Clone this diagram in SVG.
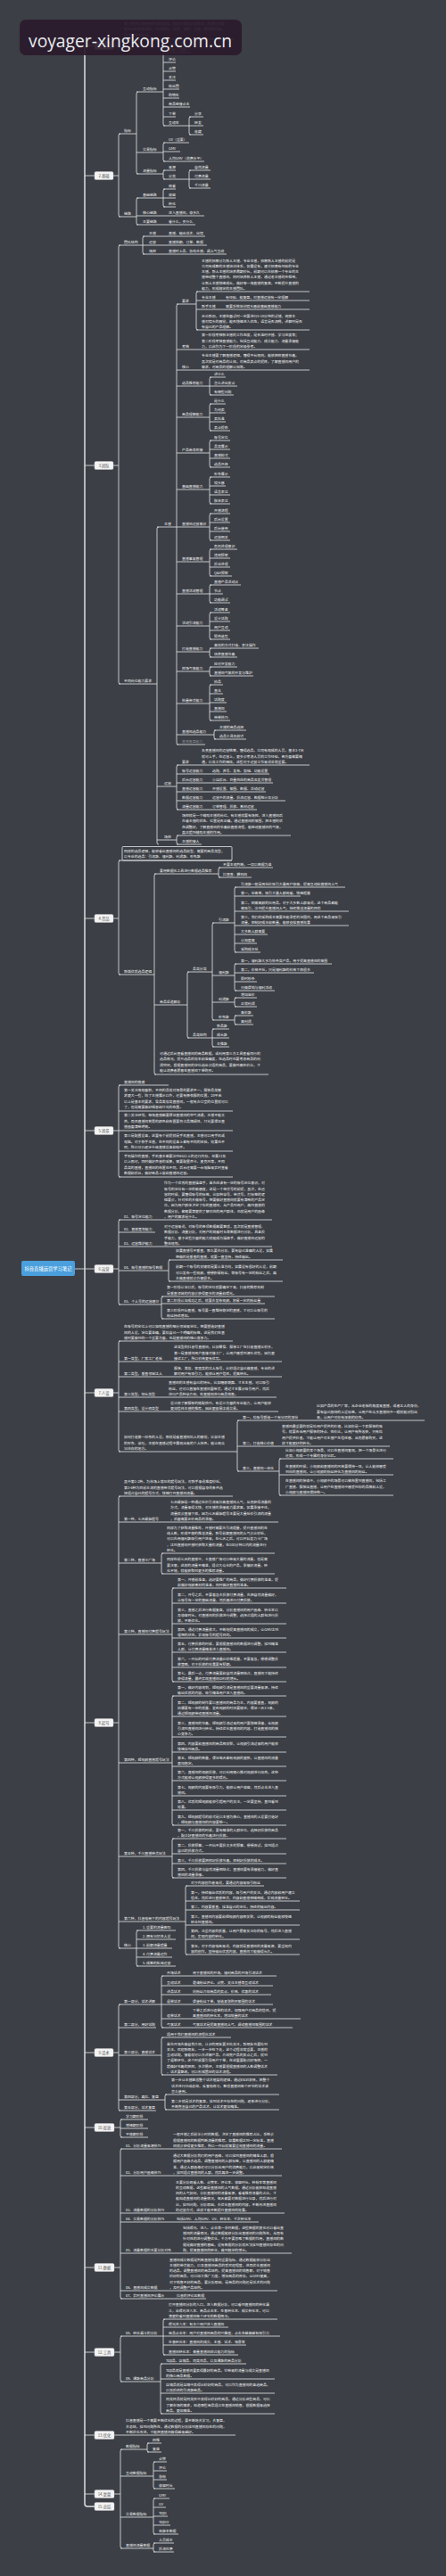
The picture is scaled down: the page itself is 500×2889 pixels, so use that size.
<svg xmlns="http://www.w3.org/2000/svg" width="500" height="2889" viewBox="0 0 500 2889">
<style>
.bg{fill:#3c3f45}
.c{fill:none;stroke:#dcdfe2;stroke-width:.85}
.k{fill:none;stroke:#dcdfe2;stroke-width:1.5}
.t{font-family:"Noto Sans CJK SC","Noto Sans CJK JP",sans-serif;font-size:3.9px;fill:#f3f4f5}
.f{fill:#8a8d92}
.m rect{fill:#f3f3f3;stroke:#c4c6c9;stroke-width:.4}
.m text{font-family:"Noto Sans CJK SC","Noto Sans CJK JP",sans-serif;font-size:4.3px;fill:#555;text-anchor:middle}
</style>
<rect class="bg" width="500" height="2889"/>
<g id="connectors">
<path class="k" d="M106 51 H98 Q95 51 95 54 V2808 Q95 2811 98 2811 H106"/>
<path class="c" d="M95 197 H106 M95 522 H106 M95 1030 H106 M95 1268 H106 M95 1423 H106 M95 1562 H106 M95 1932 H106 M95 2302 H106 M95 2386 H106 M95 2543 H106 M95 2638 H106 M95 2731 H106 M95 2797 H106 M84 1423 H95 M127 51 H130 Q133 51 133 48 V46 Q133 44 135 44 H262"/>
<path class="c" d="M127 197 H133 M135 150 Q133 150 133 152 V241 Q133 243 135 243 M133 150 H153 M155 103 Q153 103 153 105 V193 Q153 195 155 195 M153 103 H183 M185 59 Q183 59 183 61 V139 Q183 141 185 141 M183 59 H213 M183 70 H197 M183 80 H197 M183 90 H197 M183 100 H201 M183 110 H201 M183 120 H213 M183 131 H197 M183 141 H212 M214 131 Q212 131 212 133 V149 Q212 151 214 151 M212 131 H228 M212 141 H228 M212 151 H228 M153 171 H183 M185 160 Q183 160 183 162 V179 Q183 181 185 181 M183 160 H212 M183 170 H202 M183 181 H229 M153 195 H183 M185 191 Q183 191 183 193 V199 Q183 201 185 201 M183 191 H197 M183 201 H212 M214 191 Q212 191 212 193 V209 Q212 211 214 211 M212 191 H236 M212 201 H236 M212 211 H236 M133 243 H153 M155 222 Q153 222 153 224 V250 Q153 252 155 252 M153 222 H183 M185 212 Q183 212 183 214 V230 Q183 232 185 232 M183 212 H197 M183 222 H197 M183 232 H197 M153 242 H229 M153 252 H219"/>
<path class="c" d="M127 522 H133 M135 275 Q133 275 133 277 V765 Q133 767 135 767 M133 275 H160 M162 265 Q160 265 160 267 V283 Q160 285 162 285 M160 265 H230 M160 275 H232 M160 285 H254 M133 767 H176 M178 591 Q176 591 176 593 V945 Q176 947 178 947 M176 591 H235 M200 341 Q198 341 198 343 V833 Q198 835 200 835 M198 341 H220 M222 327 Q220 327 220 329 V368 Q220 370 222 370 M220 327 H347 M220 337 H347 M220 347 H347 M220 370 H347 M198 392 H347 M198 415 H347 M198 433 H235 M237 423 Q235 423 235 425 V441 Q235 443 237 443 M235 423 H253 M235 433 H266 M235 443 H262 M198 468 H235 M237 453 Q235 453 235 455 V481 Q235 483 237 483 M235 453 H253 M235 463 H253 M235 473 H253 M235 483 H258 M198 508 H235 M237 494 Q235 494 235 496 V522 Q235 524 237 524 M235 494 H258 M235 504 H258 M235 514 H258 M235 524 H258 M198 549 H235 M237 535 Q235 535 235 537 V563 Q235 565 237 565 M235 535 H258 M235 545 H253 M235 555 H258 M235 565 H258 M237 576 Q235 576 235 578 V604 Q235 606 237 606 M235 576 H258 M235 586 H258 M235 596 H258 M235 606 H258 M198 630 H235 M237 616 Q235 616 235 618 V644 Q235 646 237 646 M235 616 H266 M235 626 H258 M235 636 H258 M235 646 H260 M198 666 H235 M237 656 Q235 656 235 658 V674 Q235 676 237 676 M235 656 H270 M235 666 H250 M235 676 H258 M198 702 H235 M237 687 Q235 687 235 689 V715 Q235 717 237 717 M235 687 H258 M235 697 H258 M235 707 H258 M235 717 H258 M198 731 H235 M237 727 Q235 727 235 729 V735 Q235 737 237 737 M235 727 H290 M235 737 H266 M198 753 H235 M237 748 Q235 748 235 750 V756 Q235 758 237 758 M235 748 H266 M235 758 H284 M198 789 H235 M237 768 Q235 768 235 770 V806 Q235 808 237 808 M235 768 H250 M235 778 H250 M235 788 H254 M235 798 H254 M235 808 H258 M198 824 H240 M242 819 Q240 819 240 821 V827 Q240 829 242 829 M240 819 H276 M240 829 H276 M198 835 H230 M176 882 H198 M200 858 Q198 858 198 860 V906 Q198 908 200 908 M198 858 H347 M198 868 H302 M198 878 H306 M198 888 H298 M198 898 H320 M198 908 H288 M176 942 H198 M200 937 Q198 937 198 939 V945 Q198 947 200 947 M198 937 H326 M198 947 H226"/>
<path class="c" d="M127 1030 H133 M135 965 Q133 965 133 967 V1091 Q133 1093 135 1093 M133 965 H260 M133 1093 H173 M175 980 Q173 980 173 982 V1203 Q173 1205 175 1205 M173 980 H245 M247 973 Q245 973 245 975 V982 Q245 984 247 984 M245 973 H306 M245 984 H282 M173 1127 H210 M212 1090 Q210 1090 210 1092 V1162 Q210 1164 212 1164 M210 1090 H238 M240 1035 Q238 1035 238 1037 V1142 Q238 1144 240 1144 M238 1035 H263 M265 995 Q263 995 263 997 V1066 Q263 1068 265 1068 M263 995 H387 M263 1005 H337 M263 1022 H391 M263 1038 H391 M263 1048 H300 M263 1058 H288 M263 1068 H292 M238 1094 H263 M265 1081 Q263 1081 263 1083 V1109 Q263 1111 265 1111 M263 1081 H372 M263 1091 H352 M263 1101 H288 M263 1111 H308 M238 1124 H263 M265 1119 Q263 1119 263 1121 V1127 Q263 1129 265 1129 M263 1119 H288 M263 1129 H288 M238 1144 H263 M265 1139 Q263 1139 263 1141 V1147 Q263 1149 265 1149 M263 1139 H284 M263 1149 H284 M210 1164 H238 M240 1154 Q238 1154 238 1156 V1172 Q238 1174 240 1174 M238 1154 H257 M238 1164 H257 M238 1174 H257 M173 1205 H301"/>
<path class="c" d="M127 1268 H133 M135 1217 Q133 1217 133 1219 V1318 Q133 1320 135 1320 M133 1217 H189 M133 1246 H261 M133 1268 H261 M133 1291 H261 M133 1320 H261"/>
<path class="c" d="M127 1423 H133 M135 1368 Q133 1368 133 1370 V1461 Q133 1463 135 1463 M133 1368 H305 M133 1382 H174 M133 1398 H305 M133 1425 H189 M191 1413 Q189 1413 189 1415 V1435 Q189 1437 191 1437 M189 1413 H317 M189 1437 H317 M133 1463 H181 M183 1454 Q181 1454 181 1456 V1477 Q181 1479 183 1479 M181 1454 H308 M181 1462 H297 M181 1479 H308"/>
<path class="c" d="M127 1562 H133 M135 1504 Q133 1504 133 1506 V1626 Q133 1628 135 1628 M133 1504 H261 M133 1527 H316 M133 1544 H316 M133 1567 H310 M133 1583 H312 M133 1628 H266 M268 1593 Q266 1593 266 1595 V1648 Q266 1650 268 1650 M266 1593 H476 M266 1622 H437 M266 1650 H313 M315 1636 Q313 1636 313 1638 V1675 Q313 1677 315 1677 M313 1636 H441 M313 1654 H441 M313 1677 H441"/>
<path class="c" d="M127 1932 H133 M135 1678 Q133 1678 133 1680 V2183 Q133 2185 135 2185 M133 1678 H261 M133 1707 H312 M133 1753 H181 M183 1742 Q181 1742 181 1744 V1763 Q181 1765 183 1765 M181 1742 H308 M181 1765 H308 M133 1833 H193 M195 1781 Q193 1781 193 1783 V1884 Q193 1886 195 1886 M193 1781 H321 M193 1798 H321 M193 1821 H321 M193 1837 H321 M193 1853 H321 M193 1870 H321 M193 1886 H321 M133 1977 H193 M195 1902 Q193 1902 193 1904 V2045 Q193 2047 195 2047 M193 1902 H321 M193 1925 H321 M193 1948 H321 M193 1965 H321 M193 1981 H321 M193 1997 H321 M193 2014 H321 M193 2030 H321 M193 2047 H321 M133 2082 H193 M195 2062 Q193 2062 193 2064 V2104 Q193 2106 195 2106 M193 2062 H321 M193 2079 H321 M193 2090 H321 M193 2106 H321 M133 2155 H208 M210 2115 Q208 2115 208 2117 V2190 Q208 2192 210 2192 M208 2115 H296 M208 2132 H336 M208 2142 H336 M208 2159 H336 M208 2175 H336 M208 2192 H336 M133 2185 H153 M155 2165 Q153 2165 153 2167 V2203 Q153 2205 155 2205 M153 2165 H197 M153 2175 H197 M153 2185 H193 M153 2195 H193 M153 2205 H197"/>
<path class="c" d="M127 2302 H133 M135 2248 Q133 2248 133 2250 V2365 Q133 2367 135 2367 M133 2248 H181 M183 2216 Q181 2216 181 2218 V2272 Q181 2274 183 2274 M181 2216 H310 M181 2227 H306 M181 2237 H304 M181 2248 H306 M181 2264 H337 M181 2274 H328 M133 2274 H175 M133 2305 H181 M183 2285 Q181 2285 181 2287 V2325 Q181 2327 183 2327 M181 2285 H259 M181 2327 H311 M133 2355 H185 M187 2349 Q185 2349 185 2351 V2364 Q185 2366 187 2366 M185 2349 H313 M185 2366 H313 M133 2367 H175"/>
<path class="c" d="M128 2386 H135 M137 2377 Q135 2377 135 2379 V2395 Q135 2397 137 2397 M135 2377 H166 M135 2387 H166 M135 2397 H166 M128 2543 H135 M137 2410 Q135 2410 135 2412 V2576 Q135 2578 137 2578 M135 2410 H316 M135 2440 H316 M135 2482 H319 M135 2492 H290 M135 2527 H327 M135 2569 H311 M135 2578 H231 M128 2638 H135 M137 2620 Q135 2620 135 2622 V2669 Q135 2671 137 2671 M135 2620 H183 M185 2601 Q183 2601 183 2603 V2639 Q183 2641 185 2641 M183 2601 H311 M183 2610 H256 M183 2620 H314 M183 2630 H276 M183 2641 H267 M135 2671 H180 M182 2651 Q180 2651 180 2653 V2705 Q180 2707 182 2707 M180 2651 H276 M180 2668 H308 M180 2684 H308 M180 2707 H308 M128 2731 H264 M128 2797 H135 M137 2747 Q135 2747 135 2749 V2856 Q135 2858 137 2858 M135 2747 H165 M167 2740 Q165 2740 165 2742 V2748 Q165 2750 167 2750 M165 2740 H181 M165 2750 H181 M135 2777 H172 M174 2761 Q172 2761 172 2763 V2789 Q172 2791 174 2791 M172 2761 H187 M172 2771 H187 M172 2781 H187 M172 2791 H196 M135 2823 H172 M174 2802 Q172 2802 172 2804 V2840 Q172 2842 174 2842 M172 2802 H190 M172 2812 H186 M172 2822 H188 M172 2832 H191 M172 2842 H200 M135 2858 H172 M174 2852 Q172 2852 172 2854 V2860 Q172 2862 174 2862 M172 2852 H195 M172 2862 H195"/>
<rect class="c" x="137" y="949.5" width="123" height="15.5" rx="1"/>
</g>

<g id="root"><rect x="24" y="1414" width="60" height="17" rx="2" fill="#4a9fdc"/><text x="54" y="1424.6" font-family="Noto Sans CJK SC, sans-serif" font-size="5.3" fill="#fff" text-anchor="middle">抖音直播运营学习笔记</text></g>

<g id="n1" class="m"><rect x="106" y="46.5" width="21" height="9" rx="1.5"/><text x="116.5" y="52.5">1.前言</text></g>
<g id="n2" class="m"><rect x="106" y="192.5" width="21" height="9" rx="1.5"/><text x="116.5" y="198.5">2.基础</text></g>
<g id="n3" class="m"><rect x="106" y="517.5" width="21" height="9" rx="1.5"/><text x="116.5" y="523.5">3.团队</text></g>
<g id="n4" class="m"><rect x="106" y="1025.5" width="21" height="9" rx="1.5"/><text x="116.5" y="1031.5">4.货品</text></g>
<g id="n5" class="m"><rect x="106" y="1263.5" width="21" height="9" rx="1.5"/><text x="116.5" y="1269.5">5.场景</text></g>
<g id="n6" class="m"><rect x="106" y="1418.5" width="21" height="9" rx="1.5"/><text x="116.5" y="1424.5">6.运营</text></g>
<g id="n7" class="m"><rect x="106" y="1557.5" width="21" height="9" rx="1.5"/><text x="116.5" y="1563.5">7.人设</text></g>
<g id="n8" class="m"><rect x="106" y="1927.5" width="21" height="9" rx="1.5"/><text x="116.5" y="1933.5">8.起号</text></g>
<g id="n9" class="m"><rect x="106" y="2297.5" width="21" height="9" rx="1.5"/><text x="116.5" y="2303.5">9.话术</text></g>
<g id="n10" class="m"><rect x="106" y="2381.5" width="22" height="9" rx="1.5"/><text x="117" y="2387.5">10.投放</text></g>
<g id="n11" class="m"><rect x="106" y="2538.5" width="22" height="9" rx="1.5"/><text x="117" y="2544.5">11.数据</text></g>
<g id="n12" class="m"><rect x="106" y="2633.5" width="22" height="9" rx="1.5"/><text x="117" y="2639.5">12.工具</text></g>
<g id="n13" class="m"><rect x="106" y="2726.5" width="22" height="9" rx="1.5"/><text x="117" y="2732.5">13.优化</text></g>
<g id="n14" class="m"><rect x="106" y="2792.5" width="22" height="9" rx="1.5"/><text x="117" y="2798.5">14.复盘</text></g>
<g id="n15" class="m"><rect x="106" y="2806.5" width="22" height="9" rx="1.5"/><text x="117" y="2812.5">15.总结</text></g>

<g id="n1-p"><text class="t"><tspan x="139" y="28">看了很多抖音直播带货的课程，总结了这份学习笔记，希望对大家</tspan><tspan x="139" y="34.3">提升GMV有所帮助，包括团队、货品、场景、运营、起号等内容，</tspan><tspan x="139" y="40.6">供大家参考学习。</tspan></text></g>

<g id="n2-a"><text class="t" x="139" y="148.2">指标</text></g>
<g id="n2-a1"><text class="t" x="160" y="101.2">互动指标</text></g>
<g id="n2-a1-l"><text class="t"><tspan x="189" y="57.2">停留（重要）</tspan><tspan x="189" y="68.2">评论</tspan><tspan x="189" y="78.2">点赞</tspan><tspan x="189" y="88.2">关注</tspan><tspan x="189" y="98.2">粉丝团</tspan><tspan x="189" y="108.2">购物车</tspan><tspan x="189" y="118.2">商品链接点击</tspan><tspan x="189" y="129.2">下单</tspan><tspan x="189" y="139.2">互动率</tspan><tspan x="218" y="129.2">分享</tspan><tspan x="218" y="139.2">转发</tspan><tspan x="218" y="149.2">收藏</tspan></text></g>
<g id="n2-a2"><text class="t" x="160" y="169.2">交易指标</text></g>
<g id="n2-a2-l"><text class="t"><tspan x="189" y="158.2">UV（重要）</tspan><tspan x="189" y="168.2">GMV</tspan><tspan x="189" y="179.2">人均GMV（消费水平）</tspan></text></g>
<g id="n2-a3"><text class="t" x="160" y="193.2">流量指标</text></g>
<g id="n2-a3-l"><text class="t"><tspan x="189" y="189.2">来源</tspan><tspan x="189" y="199.2">分类</tspan><tspan x="218" y="189.2">自然流量</tspan><tspan x="218" y="199.2">付费流量</tspan><tspan x="218" y="209.2">千川流量</tspan></text></g>
<g id="n2-b"><text class="t" x="139" y="241.2">链路</text></g>
<g id="n2-b1"><text class="t"><tspan x="160" y="220.2">基础链路</tspan><tspan x="189" y="210.2">观看</tspan><tspan x="189" y="220.2">停留</tspan><tspan x="189" y="230.2">转化</tspan></text></g>
<g id="n2-b2"><text class="t"><tspan x="160" y="240.2">核心链路</tspan><tspan x="189" y="240.2">进入直播间，停多久</tspan></text></g>
<g id="n2-b3"><text class="t"><tspan x="160" y="250.2">主要链路</tspan><tspan x="189" y="250.2">看什么，买什么</tspan></text></g>

<g id="n3-a"><text class="t" x="139" y="273.2">团队结构</text></g>
<g id="n3-a-l"><text class="t"><tspan x="167" y="263.2">主播</tspan><tspan x="189" y="263.2">直播、输出话术、出镜</tspan><tspan x="167" y="273.2">运营</tspan><tspan x="189" y="273.2">直播排期、订单、数据</tspan><tspan x="167" y="283.2">场控</tspan><tspan x="189" y="283.2">直播时上品、协助主播、调人气互动</tspan></text></g>
<g id="n3-b"><text class="t" x="139" y="765.2">不同岗位能力要求</text></g>
<g id="n3-b1"><text class="t" x="184" y="589.2">主播</text></g>
<g id="n3-b1-1"><text class="t" x="204" y="339.2">要求</text></g>
<g id="n3-b1-1p"><text class="t"><tspan x="226" y="293.5">主播的招募分为新人主播、专业主播，招募新人主播的前提是</tspan><tspan x="226" y="299.8">公司有成熟的主播培训体系，如果没有，建议招募有经验的专业</tspan><tspan x="226" y="306.1">主播，新人主播的培养周期较长，前期可以先招募一个专业的主</tspan><tspan x="226" y="312.4">播带动整个直播间，同时培养新人主播，通过老主播的传帮带，</tspan><tspan x="226" y="318.7">让新人主播快速成长，做好每一场直播的复盘，不断提升直播的</tspan><tspan x="226" y="325">能力，形成稳定的主播团队。</tspan></text></g>
<g id="n3-b1-1a"><text class="t"><tspan x="226" y="335.2">专业主播</tspan><tspan x="253" y="335.2">有经验、能复盘，对直播运营有一定理解</tspan></text></g>
<g id="n3-b1-1b"><text class="t"><tspan x="226" y="345.2">新手主播</tspan><tspan x="253" y="345.2">需要系统培训镜头感和基础直播能力</tspan></text></g>
<g id="n3-b1-1c"><text class="t"><tspan x="226" y="355.5">无论新旧，主播在面试时一定要进行5-10分钟的试播，观察主</tspan><tspan x="226" y="361.8">播对镜头的感觉，能否快速进入状态，语言是否流畅，讲解时是否</tspan><tspan x="226" y="368.1">有自己的产品理解。</tspan></text></g>
<g id="n3-b1-2"><text class="t"><tspan x="204" y="390.2">考核</tspan><tspan x="226" y="377.4">第一阶段考核新主播的工作态度，是否准时开播、学习进度等；</tspan><tspan x="226" y="383.7">第二阶段考核直播能力，包括互动能力、成交能力、流量承接能</tspan><tspan x="226" y="390">力，以此作为下一阶段的定级参考。</tspan></text></g>
<g id="n3-b1-3"><text class="t"><tspan x="204" y="413.2">核心</tspan><tspan x="226" y="400.4">专业主播要了解直播逻辑，懂得平台规则，能够把控直播节奏，</tspan><tspan x="226" y="406.7">其次就是对商品的认知，对商品卖点的提炼，了解直播间用户的</tspan><tspan x="226" y="413">需求，对商品的理解认知等。</tspan></text></g>
<g id="n3-b1-4"><text class="t"><tspan x="204" y="431.2">选品推荐能力</tspan><tspan x="240" y="421.2">讲什么</tspan><tspan x="240" y="431.2">怎么讲出卖点</tspan><tspan x="240" y="441.2">有哪些问题</tspan></text></g>
<g id="n3-b1-5"><text class="t"><tspan x="204" y="466.2">商品理解能力</tspan><tspan x="240" y="451.2">是什么</tspan><tspan x="240" y="461.2">为何卖</tspan><tspan x="240" y="471.2">卖给谁</tspan><tspan x="240" y="481.2">卖点提炼</tspan></text></g>
<g id="n3-b1-6"><text class="t"><tspan x="204" y="506.2">产品商务衔接</tspan><tspan x="240" y="492.2">账号定位</tspan><tspan x="240" y="502.2">品类展示</tspan><tspan x="240" y="512.2">直播模式</tspan><tspan x="240" y="522.2">选品风格</tspan></text></g>
<g id="n3-b1-7"><text class="t"><tspan x="204" y="547.2">基础直播能力</tspan><tspan x="240" y="533.2">形象展示</tspan><tspan x="240" y="543.2">镜头感</tspan><tspan x="240" y="553.2">语言表达</tspan><tspan x="240" y="563.2">肢体表达</tspan></text></g>
<g id="n3-b1-8"><text class="t"><tspan x="204" y="589.2">直播间运营意识</tspan><tspan x="240" y="574.2">开播流程</tspan><tspan x="240" y="584.2">后台设置</tspan><tspan x="240" y="594.2">后台使用</tspan><tspan x="240" y="604.2">运营相关</tspan></text></g>
<g id="n3-b1-9"><text class="t"><tspan x="204" y="628.2">直播事故管理</tspan><tspan x="240" y="614.2">危机处理意识</tspan><tspan x="240" y="624.2">违规预案</tspan><tspan x="240" y="634.2">投诉处理</tspan><tspan x="240" y="644.2">Q&amp;A预案</tspan></text></g>
<g id="n3-b1-10"><text class="t"><tspan x="204" y="664.2">直播活动管理</tspan><tspan x="240" y="654.2">直播产品活动点</tspan><tspan x="240" y="664.2">节点</tspan><tspan x="240" y="674.2">功能调试</tspan></text></g>
<g id="n3-b1-11"><text class="t"><tspan x="204" y="700.2">活动引流能力</tspan><tspan x="240" y="685.2">活动筹备</tspan><tspan x="240" y="695.2">设计话题</tspan><tspan x="240" y="705.2">用户互动</tspan><tspan x="240" y="715.2">预热造势</tspan></text></g>
<g id="n3-b1-12"><text class="t"><tspan x="204" y="729.2">打造直播能力</tspan><tspan x="240" y="725.2">高效的方式打造、表达操作</tspan><tspan x="240" y="735.2">培养直播节奏</tspan></text></g>
<g id="n3-b1-13"><text class="t"><tspan x="204" y="751.2">控场气氛能力</tspan><tspan x="240" y="746.2">应对突发能力</tspan><tspan x="240" y="756.2">直播间气氛的开发与维护</tspan></text></g>
<g id="n3-b1-14"><text class="t"><tspan x="204" y="787.2">批量带货能力</tspan><tspan x="240" y="766.2">拍品</tspan><tspan x="240" y="776.2">直击</tspan><tspan x="240" y="786.2">话题度</tspan><tspan x="240" y="796.2">直播间</tspan><tspan x="240" y="806.2">带单技巧</tspan></text></g>
<g id="n3-b1-15"><text class="t"><tspan x="204" y="822.2">直播间选品能力</tspan><tspan x="246" y="817.2">主播的商品选择</tspan><tspan x="246" y="827.2">选品工具及模式</tspan></text></g>
<g id="n3-b1-16"><text class="t f" x="204" y="833.2">直播复盘能力</text></g>
<g id="n3-b2"><text class="t" x="184" y="880.2">运营</text></g>
<g id="n3-b2-1"><text class="t"><tspan x="204" y="856.2">要求</tspan><tspan x="226" y="843.4">负责直播间的运营统筹，懂得选品，公司有现成的人员，基本3-7天</tspan><tspan x="226" y="849.7">就可上手，在运营上，更多会考虑人员的工作经验，各方面都要精</tspan><tspan x="226" y="856">通，以及工作的细致，这些对于运营工作来说非常重要。</tspan></text></g>
<g id="n3-b2-2"><text class="t"><tspan x="204" y="866.2">账号运营能力</tspan><tspan x="238" y="866.2">选题、养号、发布、剪辑、功能设置</tspan></text></g>
<g id="n3-b2-3"><text class="t"><tspan x="204" y="876.2">后台运营能力</tspan><tspan x="238" y="876.2">小店后台、巨量百应的商品及发货管理</tspan></text></g>
<g id="n3-b2-4"><text class="t"><tspan x="204" y="886.2">直播运营能力</tspan><tspan x="238" y="886.2">开播设置、氛围、数据、活动运营</tspan></text></g>
<g id="n3-b2-5"><text class="t"><tspan x="204" y="896.2">数据运营能力</tspan><tspan x="238" y="896.2">运营中的流量、投流运营、数据统计及分析</tspan></text></g>
<g id="n3-b2-6"><text class="t"><tspan x="204" y="906.2">流量运营能力</tspan><tspan x="238" y="906.2">订单管理、投放、素材运营</tspan></text></g>
<g id="n3-b3"><text class="t" x="184" y="940.2">场控</text></g>
<g id="n3-b3-1"><text class="t"><tspan x="204" y="916.1">场控就是一个辅助主播的岗位，有主播就要有场控，进入直播间后</tspan><tspan x="204" y="922.4">先看主播的状态、位置是否正确，通过直播间的氛围，把主播的状</tspan><tspan x="204" y="928.7">态调整好，了解直播间的节奏和直播流程，能带动直播间的气氛，</tspan><tspan x="204" y="935">真正起到辅助主播的作用。</tspan></text></g>
<g id="n3-b3-2"><text class="t" x="204" y="945.2">主播的接人</text></g>

<g id="n4-a"><text class="t"><tspan x="139" y="955.6">同样的选品逻辑，能够看出直播间的选品模型，需要的商品类型，</tspan><tspan x="139" y="961.9">以专业的选品：引流款、福利款、利润款、形象款</tspan></text></g>
<g id="n4-b"><text class="t" x="139" y="1091.2">新版优质选品逻辑</text></g>
<g id="n4-b1"><text class="t"><tspan x="179" y="978.2">要用数据化工具进行数据选品推荐</tspan><tspan x="250" y="971.2">不要主观判断，一切以数据为准</tspan><tspan x="250" y="982.2">抖查查、蝉妈妈</tspan></text></g>
<g id="n4-b2"><text class="t" x="179" y="1125.2">商品渠道解析</text></g>
<g id="n4-b2-1"><text class="t" x="216" y="1088.2">品类分类</text></g>
<g id="n4-b2-1a"><text class="t"><tspan x="245" y="1033.2">引流款</tspan><tspan x="270" y="993.2">引流款一般是用低价吸引大量用户停留，提高互动和直播间人气</tspan><tspan x="270" y="1003.2">第一，低客单，吸引大量人群观看，快速起量</tspan><tspan x="270" y="1013.7">第二，刚需高频的日用品，对于大多数人群来说，这个商品都能</tspan><tspan x="270" y="1020">被吸引，达到提升直播间人气，持续推送流量的目的</tspan><tspan x="270" y="1029.7">第三，我们的采购成本需要在能承受的范围内，用这个商品来吸引</tspan><tspan x="270" y="1036">流量，控制好成本和数量，能够支撑直播效果</tspan><tspan x="270" y="1046.2">大多数人群需要</tspan><tspan x="270" y="1056.2">认知度高</tspan><tspan x="270" y="1066.2">采购成本低</tspan></text></g>
<g id="n4-b2-1b"><text class="t"><tspan x="245" y="1092.2">福利款</tspan><tspan x="270" y="1079.2">第一，福利款大多为秒杀类产品，用于提高直播间的氛围</tspan><tspan x="270" y="1089.2">第二，价格不低，只是福利款的价格下降很多</tspan><tspan x="270" y="1099.2">限时秒杀</tspan><tspan x="270" y="1109.2">只做促销与福利活动</tspan></text></g>
<g id="n4-b2-1c"><text class="t"><tspan x="245" y="1122.2">利润款</tspan><tspan x="270" y="1117.2">增加溢价</tspan><tspan x="270" y="1127.2">正常利润</tspan></text></g>
<g id="n4-b2-1d"><text class="t"><tspan x="245" y="1142.2">形象款</tspan><tspan x="270" y="1137.2">高价款</tspan><tspan x="270" y="1147.2">高利润</tspan></text></g>
<g id="n4-b2-2"><text class="t"><tspan x="216" y="1162.2">品类结构</tspan><tspan x="243" y="1152.2">新品款</tspan><tspan x="243" y="1162.2">成长款</tspan><tspan x="243" y="1172.2">主推款</tspan></text></g>
<g id="n4-b3"><text class="t"><tspan x="179" y="1183.1">可通过后台查看直播间的商品数据，或利用第三方工具查看同行的</tspan><tspan x="179" y="1189.4">选品情况，提升选品的效率和准确度，在选品时也要考虑商品的利</tspan><tspan x="179" y="1195.7">润空间，根据直播间的定位选出合适的商品，要做到高性价比，才</tspan><tspan x="179" y="1202">能让消费者愿意在直播间下单购买。</tspan></text></g>

<g id="n5-a"><text class="t" x="139" y="1215.2">直播间的搭建</text></g>
<g id="n5-b"><text class="t"><tspan x="139" y="1224.1">第一关注场地面积，不同的品类对场景的要求不一，服装品类需</tspan><tspan x="139" y="1230.4">求更大一些，除了主播展示以外，还要有换衣服的位置，20平米</tspan><tspan x="139" y="1236.7">以上是基本的要求，食品美妆类直播间，一般有办公室的位置就可以</tspan><tspan x="139" y="1243">了，但是需要做好隔音和灯光的布置。</tspan></text></g>
<g id="n5-c"><text class="t"><tspan x="139" y="1252.4">第二关注环境，每场直播都要保证直播间的空气流通，主播不能太</tspan><tspan x="139" y="1258.7">热，而且直播间背景的颜色和布置要符合品牌调性，灯光要保证直</tspan><tspan x="139" y="1265">播画面清晰明亮。</tspan></text></g>
<g id="n5-d"><text class="t"><tspan x="139" y="1275.4">第三是配置设备，这里有个前提就是手机直播，主播可以用手机或</tspan><tspan x="139" y="1281.7">电脑，对于新手主播，在不同的设备上都有不同的体验，效果也不</tspan><tspan x="139" y="1288">同，所以可以逐步升级直播设备和软件。</tspan></text></g>
<g id="n5-e"><text class="t"><tspan x="139" y="1298.1">手机操作的直播，手机基本都要达到6G以上的运行内存，苹果11及</tspan><tspan x="139" y="1304.4">以上即可，同时做好声音的采集，需要配置声卡、麦克风等，不同</tspan><tspan x="139" y="1310.7">品类的直播，直播间的布置也不同，后台还需要一台电脑来实时查看</tspan><tspan x="139" y="1317">数据和后台，做好商品上架和直播间运营。</tspan></text></g>

<g id="n6-a"><text class="t"><tspan x="139" y="1366.2">01、账号定位能力</tspan><tspan x="184" y="1328.2">作为一个优秀的直播操盘手，首先应该有一定的账号定位意识，对</tspan><tspan x="184" y="1334.5">账号的定位有一定的敏感度，这是一个带货号的前提，其次，在运</tspan><tspan x="184" y="1340.8">营的时候，要懂得账号的标签，比如种草号、带货号，打标签的逻</tspan><tspan x="184" y="1347.1">辑要会，针对性的去做账号，想要做好直播间就要有清晰的产品定</tspan><tspan x="184" y="1353.4">位，因为用户群体决定了你的直播间，从产品到用户，再到直播的</tspan><tspan x="184" y="1359.7">数据分析，都需要清楚的了解对应的用户群体，也就是用户的画像</tspan><tspan x="184" y="1366">，用户的需求是什么。</tspan></text></g>
<g id="n6-b"><text class="t" x="139" y="1380.2">02、直播策划能力</text></g>
<g id="n6-c"><text class="t"><tspan x="139" y="1396.2">03、运营维护能力</tspan><tspan x="184" y="1377.1">对于运营来说，对账号的各项数据都要熟悉，其次就是直播管理、</tspan><tspan x="184" y="1383.4">数据分析、流量分析，对用户的观看时长等数据进行分析，具备投</tspan><tspan x="184" y="1389.7">手能力，基于这些方面的能力就能成为操盘手，做好直播间运营的</tspan><tspan x="184" y="1396">整体规划。</tspan></text></g>
<g id="n6-d"><text class="t" x="139" y="1423.2">04、账号直播的账号数据</text></g>
<g id="n6-d1"><text class="t"><tspan x="197" y="1404.4">如果直播号不垂直，那么要先分析，要有自己准确的人设，如果</tspan><tspan x="197" y="1410.7">想做的是垂直的直播，就要一直坚持，持续输出。</tspan></text></g>
<g id="n6-d2"><text class="t"><tspan x="197" y="1422.4">前期一个账号的关键就是要认准方向，如果没有很好的人设，前期</tspan><tspan x="197" y="1428.7">可以发布一些视频，慢慢积累粉丝，等账号有一定的粉丝之后，再</tspan><tspan x="197" y="1435">去做直播就会方便很多。</tspan></text></g>
<g id="n6-e"><text class="t" x="139" y="1461.2">05、个人号的运营建议</text></g>
<g id="n6-e1"><text class="t"><tspan x="187" y="1445.4">第一阶段认证以后，账号的定位就要确定下来，抖音的推荐机制</tspan><tspan x="187" y="1451.7">是垂直领域的内容会获得更多的流量和曝光。</tspan></text></g>
<g id="n6-e2"><text class="t" x="187" y="1460.2">第二阶段认证成功之后，就要去发布视频，积累一定的粉丝量</text></g>
<g id="n6-e3"><text class="t"><tspan x="187" y="1470.7">第三阶段开始直播，账号要一直维持稳定的直播，才可以让账号的</tspan><tspan x="187" y="1477">粉丝持续增加。</tspan></text></g>

<g id="n7-a"><text class="t"><tspan x="139" y="1489.4">在账号的定位上可以借助直播的细分领域来定位，想要塑造好直播</tspan><tspan x="139" y="1495.7">间的人设，定位要准确，要给自己一个明确的标签，这是我们在直</tspan><tspan x="139" y="1502">播时要做到的一个重要方面，也是直播间的核心竞争力。</tspan></text></g>
<g id="n7-b"><text class="t"><tspan x="139" y="1525.2">第一类型，厂家工厂老板</tspan><tspan x="195" y="1512.4">这类型的抖音号直播间，比如零食、服装工厂在抖音直播比较多，</tspan><tspan x="195" y="1518.7">第一是直播间用户直接对接工厂，让用户感受到源头优势，因为更</tspan><tspan x="195" y="1525">接近工厂，所以价格更有优势。</tspan></text></g>
<g id="n7-c"><text class="t"><tspan x="139" y="1542.2">第二类型，垂直领域达人</tspan><tspan x="195" y="1535.7">服装、美妆、家居类的达人账号，比较适合自己做直播，专业的讲</tspan><tspan x="195" y="1542">解对用户有吸引力，能够让用户信任，提高转化。</tspan></text></g>
<g id="n7-d"><text class="t"><tspan x="139" y="1565.2">第三类型，特长类型</tspan><tspan x="189" y="1552.4">直播间的主播有自己的特长，比如唱歌跳舞、才艺主播，可以吸引</tspan><tspan x="189" y="1558.7">粉丝，还可以直接在直播间里带货，通过才艺展示吸引用户，然后</tspan><tspan x="189" y="1565">进行产品种草介绍，在直播间进行商品销售。</tspan></text></g>
<g id="n7-e"><text class="t"><tspan x="139" y="1581.2">第四类型，设计师类型</tspan><tspan x="191" y="1574.7">设计师了解服装的搭配技巧，有设计方面的专业能力，让用户能够</tspan><tspan x="191" y="1581">更加信任主播的推荐，因此更容易达成交易。</tspan></text></g>
<g id="n7-f"><text class="t"><tspan x="139" y="1613.4">如何打造第一印象的人设，那就是看直播间给人的感觉，比如主播</tspan><tspan x="139" y="1619.7">的形象、谈吐，主播在直播过程中展现出来的个人特色，能让观众</tspan><tspan x="139" y="1626">记住你的地方。</tspan></text></g>
<g id="n7-f1"><text class="t"><tspan x="272" y="1591.2">第一，给账号塑造一个有记忆的身份</tspan><tspan x="355" y="1578.4">比如产品的生产厂家，从企业老板的角度来直播，或者达人的身份，</tspan><tspan x="355" y="1584.7">要有自己独特的人设标签，让用户在众多直播间中一眼就能识别出</tspan><tspan x="355" y="1591">来，让用户对你有深刻的印象。</tspan></text></g>
<g id="n7-f2"><text class="t"><tspan x="272" y="1620.2">第二，打造核心价值</tspan><tspan x="316" y="1601.1">直播间最重要的就是给用户提供的价值，比如你是一个卖服装的账</tspan><tspan x="316" y="1607.4">号，就要告诉用户服装的特点、性价比，让用户有所收获，只有给</tspan><tspan x="316" y="1613.7">用户提供价值，才能让用户对主播产生信任感，从而愿意购买，这</tspan><tspan x="316" y="1620">样才能更好的转化。</tspan></text></g>
<g id="n7-f3"><text class="t" x="272" y="1648.2">第三，直播间一体化</text></g>
<g id="n7-f3-l"><text class="t"><tspan x="320" y="1627.7">比如小视频里的某个场景，可以在直播间复现，把一个场景化进行</tspan><tspan x="320" y="1634">还原，形成一个专属的身份记忆。</tspan><tspan x="320" y="1645.7">在直播的时候，小视频和直播间的风格要保持一致，让人能够感受</tspan><tspan x="320" y="1652">到你的直播间，让小视频的粉丝转化为直播间的粉丝。</tspan><tspan x="320" y="1662.4">在直播间的装修中，小视频中的场景可以被布置到直播间，包括工</tspan><tspan x="320" y="1668.7">厂直播、服装店直播，让用户在直播间中感受到你的品牌和人设，</tspan><tspan x="320" y="1675">小视频与直播间保持统一。</tspan></text></g>

<g id="n8-a"><text class="t"><tspan x="139" y="1663.4">其中第1-2种，为市场上常见的起号玩法，对新手来说难度较低，</tspan><tspan x="139" y="1669.7">第3-6种为目前主流的直播带货起号玩法，可以根据自身的条件选</tspan><tspan x="139" y="1676">择适合自己的起号方式，快速打开直播间流量。</tspan></text></g>
<g id="n8-b"><text class="t"><tspan x="139" y="1705.2">第一种，七天螺旋起号</tspan><tspan x="191" y="1686.1">七天螺旋是一种通过低价引流来拉高直播间人气，从而获得流量的</tspan><tspan x="191" y="1692.4">方式，流量来得太快，对主播的承接能力要求高，如果承接不住，</tspan><tspan x="191" y="1698.7">流量就会直接下降，因为七天螺旋起号主要是大量低价引流的流量</tspan><tspan x="191" y="1705">，后面需要正价商品的承接。</tspan></text></g>
<g id="n8-c"><text class="t" x="139" y="1751.2">第二种，直播卡广场</text></g>
<g id="n8-c-l"><text class="t"><tspan x="187" y="1714.8">同样为了获取流量推荐，开播时需要先引流起量，提升直播间的在</tspan><tspan x="187" y="1721.1">线人数，形成平稳的推送流量，新号前期直播间的人气会比较低，</tspan><tspan x="187" y="1727.4">可以先用福利款吸引用户进来，在七天之后，可以开始发力卡广场</tspan><tspan x="187" y="1733.7">，达到直播间开播时获取大量的流量，在100分钟以内的流量进行</tspan><tspan x="187" y="1740">转化。</tspan><tspan x="187" y="1750.4">同样在前七天的直播中，卡直播广场可以带来大量的流量，但是需</tspan><tspan x="187" y="1756.7">要注意，这样的流量不精准，适合大众化的产品，承接好流量，转</tspan><tspan x="187" y="1763">化不错，就能获取到更多的推荐流量。</tspan></text></g>
<g id="n8-d"><text class="t" x="139" y="1831.2">第三种，直播间付费起号玩法</text></g>
<g id="n8-d-l"><text class="t"><tspan x="199" y="1772.9">第一，开播前准备，选好要推广的商品，做好付费投放的准备，提</tspan><tspan x="199" y="1779.2">前做好视频素材的准备，同时做好直播的准备。</tspan><tspan x="199" y="1789.9">第二，开号之后，不要着急去投放付费流量，先把自然流量做好，</tspan><tspan x="199" y="1796.2">让账号有一定的基础流量，然后再进行付费投放。</tspan><tspan x="199" y="1806.6">第三，直播之后进行数据复盘，分析直播间的用户画像、转化率以</tspan><tspan x="199" y="1812.9">及停留时长，对直播间的投放进行调整，选择合适的人群包进行投</tspan><tspan x="199" y="1819.2">放，不断优化。</tspan><tspan x="199" y="1828.9">第四，通过付费流量放大，不断地提高直播间的成交，让GMV达到</tspan><tspan x="199" y="1835.2">理想的状态，实现账号的起号目的。</tspan><tspan x="199" y="1844.9">第五，付费投放的时候，要根据直播间的数据进行调整，找到精准</tspan><tspan x="199" y="1851.2">人群，让付费流量精准进入直播间。</tspan><tspan x="199" y="1861.9">第六，一开始的时候付费流量比较难起量，不要着急，慢慢调整投</tspan><tspan x="199" y="1868.2">放策略，对于投放的效果要有预期。</tspan><tspan x="199" y="1877.9">第七，最后一点，付费流量要和自然流量相结合，直播间才能持续</tspan><tspan x="199" y="1884.2">获得流量，最终实现直播间GMV的增长。</tspan></text></g>
<g id="n8-e"><text class="t" x="139" y="1975.2">第四种，短视频直播起号玩法</text></g>
<g id="n8-e-l"><text class="t"><tspan x="199" y="1893.9">第一，做好内容规划，短视频引流是直播间的重要流量来源，持续</tspan><tspan x="199" y="1900.2">输出优质的内容，吸引精准用户进入直播间。</tspan><tspan x="199" y="1910.6">第二，短视频的制作要以直播间的商品为主，内容要垂直，视频的</tspan><tspan x="199" y="1916.9">拍摄要有一定的质量，发布视频的时间要稳定，保证一天3-5条，</tspan><tspan x="199" y="1923.2">通过短视频带动直播间流量。</tspan><tspan x="199" y="1933.6">第三，直播间的节奏，短视频引流过来的用户要快速承接，从视频</tspan><tspan x="199" y="1939.9">引流到直播间进行转化，持续优化直播间的内容，打造直播间的核</tspan><tspan x="199" y="1946.2">心竞争力。</tspan><tspan x="199" y="1956.9">第四，内容要和直播间的商品相关联，让视频引流过来的用户能够</tspan><tspan x="199" y="1963.2">快速找到商品。</tspan><tspan x="199" y="1972.9">第五，短视频的数量，保证每天都有视频的更新，让直播间的流量</tspan><tspan x="199" y="1979.2">更加稳定。</tspan><tspan x="199" y="1988.9">第六，直播间的视频投放，可以利用随心推对视频进行加热，这种</tspan><tspan x="199" y="1995.2">方式能够让视频获得更多的曝光。</tspan><tspan x="199" y="2005.9">第七，视频的内容要有吸引力，能够让用户停留，然后点击进入直</tspan><tspan x="199" y="2012.2">播间。</tspan><tspan x="199" y="2021.9">第八，优质的短视频能够引起用户的关注，一定要坚持，直到看到</tspan><tspan x="199" y="2028.2">效果。</tspan><tspan x="199" y="2038.9">第九，短视频起号的模式是以主播为核心，直播间的人设要打造好</tspan><tspan x="199" y="2045.2">，短视频与直播间的内容要统一。</tspan></text></g>
<g id="n8-f"><text class="t" x="139" y="2080.2">第五种，千川直播带货玩法</text></g>
<g id="n8-f-l"><text class="t"><tspan x="199" y="2053.9">第一，千川投放的时候，要有精准的人群定位，选择好投放的商品</tspan><tspan x="199" y="2060.2">，配合好直播间的节奏进行投放。</tspan><tspan x="199" y="2070.9">第二，投放预算，一开始不要投太多的预算，慢慢测试，找到适合</tspan><tspan x="199" y="2077.2">自己的投放方式。</tspan><tspan x="199" y="2088.2">第三，千川投放要把控好投放节奏，控制好投放的成本。</tspan><tspan x="199" y="2097.9">第四，千川投放与自然流量相结合，直播间要有承接能力，做好直</tspan><tspan x="199" y="2104.2">播间的流量承接。</tspan></text></g>
<g id="n8-g"><text class="t" x="139" y="2153.2">第六种，抖音电商下的内容起号玩法</text></g>
<g id="n8-g-l"><text class="t"><tspan x="214" y="2113.2">对于内容创作者来说，要通过内容来吸引粉丝</tspan><tspan x="214" y="2123.9">第一，持续输出优质的内容，吸引用户的关注，通过内容和用户建立</tspan><tspan x="214" y="2130.2">信任，然后进行直播带货，内容和直播相辅相成，实现流量转化。</tspan><tspan x="214" y="2140.2">第二，内容要垂直，找准自己的定位，持续的输出内容。</tspan><tspan x="214" y="2150.9">第三，直播间内容要和短视频内容相关联，让视频的粉丝能够快速</tspan><tspan x="214" y="2157.2">转化到直播间。</tspan><tspan x="214" y="2166.9">第四，注重内容的质量，让用户愿意关注你的账号，然后进入直播</tspan><tspan x="214" y="2173.2">间，实现内容的转化。</tspan><tspan x="214" y="2183.9">第五，对于内容电商来说，内容就是直播间的流量来源，要重视内</tspan><tspan x="214" y="2190.2">容的创作，坚持输出优质内容，直播间才能做得长久。</tspan></text></g>
<g id="n8-h"><text class="t"><tspan x="139" y="2183.2">核心</tspan><tspan x="160" y="2163.2">1. 重要的流量密码</tspan><tspan x="160" y="2173.2">2. 拥有记忆性人设</tspan><tspan x="160" y="2183.2">3. 前期流量起量</tspan><tspan x="160" y="2193.2">4. 付费流量运作</tspan><tspan x="160" y="2203.2">5. 成熟的私域运营</tspan></text></g>

<g id="n9-a"><text class="t" x="139" y="2246.2">第一部分，话术讲解</text></g>
<g id="n9-a-l"><text class="t"><tspan x="187" y="2214.2">开场话术</tspan><tspan x="216" y="2214.2">用于直播间的开场，福利商品的开场引流话术</tspan><tspan x="187" y="2225.2">互动话术</tspan><tspan x="216" y="2225.2">邀请粉丝评论、点赞、关注主播等互动话术</tspan><tspan x="187" y="2235.2">讲品话术</tspan><tspan x="216" y="2235.2">向粉丝介绍商品的卖点、价格、优惠的话术</tspan><tspan x="187" y="2246.2">逼单话术</tspan><tspan x="216" y="2246.2">促使粉丝下单，营造紧张购买氛围的话术</tspan><tspan x="187" y="2262.2">追单话术</tspan><tspan x="216" y="2255.9">下单之后进行追单的话术，加强用户对商品的信任，提</tspan><tspan x="216" y="2262.2">高直播间的转化率，增加销量的话术</tspan><tspan x="187" y="2272.2">气氛话术</tspan><tspan x="216" y="2272.2">气氛话术是提高直播间人气、调动直播间氛围的话术</tspan></text></g>
<g id="n9-b"><text class="t" x="139" y="2272.2">第二部分，用好话题</text></g>
<g id="n9-c"><text class="t" x="139" y="2303.2">第三部分，直播话术</text></g>
<g id="n9-c-l"><text class="t"><tspan x="187" y="2283.2">适用于我们直播间的流程化话术</tspan><tspan x="187" y="2293.5">首先开场先做自我介绍，认识的朋友要多给关注，新朋友也要给到</tspan><tspan x="187" y="2299.8">关注，欢迎新朋友，一步一步往下走，这个过程非常重要，主播的</tspan><tspan x="187" y="2306.1">互动话题，接着就可以去讲解产品，介绍完产品的卖点之后，就到</tspan><tspan x="187" y="2312.4">了逼单环节，这个时候要引导用户下单，在这里要配合好场控，一</tspan><tspan x="187" y="2318.7">起做好节奏的把控，多次循环，主播要根据直播间的人数调整话术</tspan><tspan x="187" y="2325">，话术要熟练，可以形成固定的话术流程。</tspan></text></g>
<g id="n9-d"><text class="t" x="139" y="2353.2">第四部分，再拉、复盘</text></g>
<g id="n9-d-l"><text class="t"><tspan x="192" y="2334.4">第一步让主播熟悉整个话术框架的逻辑，通过excel表格，把整个</tspan><tspan x="192" y="2340.7">话术进行归纳总结，反复地练习，熟悉直播间每个环节的话术该</tspan><tspan x="192" y="2347">怎么使用。</tspan><tspan x="192" y="2357.7">第二步就是话术的复盘，找到话术中存在的问题，逐条进行分析，</tspan><tspan x="192" y="2364">不断完善自己的产品话术，让话术更加精准。</tspan></text></g>
<g id="n9-e"><text class="t" x="139" y="2365.2">第五部分，话术复盘</text></g>

<g id="n10-l"><text class="t"><tspan x="141" y="2375.2">学习期阶段</tspan><tspan x="141" y="2385.2">增速期阶段</tspan><tspan x="141" y="2395.2">平稳期阶段</tspan></text></g>

<g id="n11-a"><text class="t"><tspan x="141" y="2408.2">01、分析流量来源技巧</tspan><tspan x="194" y="2395.4">一般开播之后前半小时的数据，决定了直播间的推荐占比，系统会</tspan><tspan x="194" y="2401.7">根据直播间的数据判断流量的推荐，如果数据达到一定标准，直播</tspan><tspan x="194" y="2408">间就会获得更多推荐，所以一开始就需要重视直播间的流量。</tspan></text></g>
<g id="n11-b"><text class="t"><tspan x="141" y="2438.2">02、分析用户画像技巧</tspan><tspan x="194" y="2419.1">通过大数据分析我们的用户画像，可以找到直播间的精准人群，根</tspan><tspan x="194" y="2425.4">据用户画像去选品，调整直播间的人群标签，让直播间的人群更精</tspan><tspan x="194" y="2431.7">准，通过人群画像还可以分析出用户的消费能力，以此来制定价格</tspan><tspan x="194" y="2438">，找到适合直播间的人群，然后再进一步调整。</tspan></text></g>
<g id="n11-c"><text class="t"><tspan x="141" y="2480.2">03、流量数据的分析技巧</tspan><tspan x="197" y="2448.5">主要分析观看人数、点赞率、评论率、停留时长、转粉率等直播间</tspan><tspan x="197" y="2454.8">的互动数据，这些都是直播间的人气数据，通过分析能够知道直播</tspan><tspan x="197" y="2461.1">间的人气如何，分析直播间的流量来源，看看推荐流量的占比，才</tspan><tspan x="197" y="2467.4">能知道直播间的流量情况，每天都要对数据进行记录，然后进行对</tspan><tspan x="197" y="2473.7">比，找到问题，分析原因，去优化直播间的内容，不断改进直播间</tspan><tspan x="197" y="2480">的运营方式，这样才能不断提升直播间的效果。</tspan></text></g>
<g id="n11-d"><text class="t"><tspan x="141" y="2490.2">04、交易数据的分析技巧</tspan><tspan x="198" y="2490.2">包括GMV、人均GMV、UV、转化率、千次转化率</tspan></text></g>
<g id="n11-e"><text class="t"><tspan x="141" y="2525.2">05、流量数据的主要分析对象</tspan><tspan x="205" y="2499.8">包括曝光、进入、点击等一系列数据，这些数据的变化可以看出直</tspan><tspan x="205" y="2506.1">播间的流量情况，通过数据能够分析出直播间的问题所在，从而有</tspan><tspan x="205" y="2512.4">针对性的进行调整优化，千万不要忽略了数据的作用，直播间的数</tspan><tspan x="205" y="2518.7">据是做好直播的基础，没有数据的分析就无法找到直播间存在的问</tspan><tspan x="205" y="2525">题，提高直播间的转化，做到稳定的增长。</tspan></text></g>
<g id="n11-f"><text class="t"><tspan x="141" y="2567.2">06、直播间成交数据</tspan><tspan x="190" y="2535.5">直播间成交数据是判断直播效果的重要指标，通过数据能够分析出</tspan><tspan x="190" y="2541.8">主播的带货能力，以及直播间商品的受欢迎程度，进而优化直播间</tspan><tspan x="190" y="2548.1">的选品，调整直播间的商品结构，提高直播间的销售额，对于销售</tspan><tspan x="190" y="2554.4">较好的商品，可以加大推广力度，增加商品的库存，让GMV更高，</tspan><tspan x="190" y="2560.7">对于销售不好的商品，要分析原因，是商品的问题还是话术的问题</tspan><tspan x="190" y="2567">，及时调整产品结构。</tspan></text></g>
<g id="n11-g"><text class="t"><tspan x="141" y="2576.2">07、实时直播间评论展示</tspan><tspan x="198" y="2576.2">抖音的评论区数据</tspan></text></g>

<g id="n12-a"><text class="t" x="141" y="2618.2">08、转化漏斗的分析</text></g>
<g id="n12-a-l"><text class="t"><tspan x="189" y="2586.4">打开直播间分析的入口，进入数据分析，可以看到直播间的转化漏</tspan><tspan x="189" y="2592.7">斗，从曝光进入率、商品点击率、生意转化率、成交转化率，可以</tspan><tspan x="189" y="2599">清楚的看到直播间每个环节的数据情况。</tspan><tspan x="189" y="2608.2">曝光进入率：有多少用户进入直播间</tspan><tspan x="189" y="2618.2">商品点击率：用户对直播间商品的兴趣度，点击率越高越有吸引力</tspan><tspan x="189" y="2628.2">生意转化率：直播间的成交，主播、话术、场景等</tspan><tspan x="189" y="2639.2">直播间转化率：衡量直播间综合能力的指标</tspan></text></g>
<g id="n12-b"><text class="t" x="141" y="2669.2">09、爆款商品分析</text></g>
<g id="n12-b-l"><text class="t"><tspan x="186" y="2649.2">Top品、店铺品、同类目品，以及爆款的商品分析</tspan><tspan x="186" y="2659.9">Top品就是直播间里卖得最好的商品，它带来的流量与成交是直播间</tspan><tspan x="186" y="2666.2">的核心商品数据。</tspan><tspan x="186" y="2675.9">店铺品就是店铺中卖得比较好的商品，可以作为直播间的备选商品，</tspan><tspan x="186" y="2682.2">以及后续的引流款商品。</tspan><tspan x="186" y="2692.4">同类目品就是同类目中卖得比较好的商品，通过分析这些商品，可以</tspan><tspan x="186" y="2698.7">了解市场的需求，知道哪些商品适合在直播间销售，根据数据来选择</tspan><tspan x="186" y="2705">商品，更加精准。</tspan></text></g>

<g id="n13-a"><text class="t"><tspan x="141" y="2716.4">抖音直播是一个需要不断优化的过程，要不断地去学习，去复盘，</tspan><tspan x="141" y="2722.7">去总结，找到问题所在，通过数据的分析找到直播间存在的问题，</tspan><tspan x="141" y="2729">不断优化改进，才能把直播间做得越来越好。</tspan></text></g>

<g id="n14-a"><text class="t"><tspan x="141" y="2745.2">数据指标</tspan><tspan x="171" y="2738.2">四维</tspan><tspan x="171" y="2748.2">复盘</tspan></text></g>
<g id="n14-b"><text class="t"><tspan x="141" y="2775.2">互动数据指标</tspan><tspan x="178" y="2759.2">点赞</tspan><tspan x="178" y="2769.2">评论</tspan><tspan x="178" y="2779.2">涨粉</tspan><tspan x="178" y="2789.2">停留时长</tspan></text></g>
<g id="n14-c"><text class="t"><tspan x="141" y="2821.2">交易数据指标</tspan><tspan x="178" y="2800.2">GMV</tspan><tspan x="178" y="2810.2">UV</tspan><tspan x="178" y="2820.2">Top1</tspan><tspan x="178" y="2830.2">Top10</tspan><tspan x="178" y="2840.2">退款率数据</tspan></text></g>
<g id="n14-d"><text class="t"><tspan x="141" y="2856.2">直播间流量数据</tspan><tspan x="178" y="2850.2">人员成本</tspan><tspan x="178" y="2860.2">投流花费</tspan></text></g>

<g id="watermark"><rect x="22" y="22" width="249" height="40" rx="7" fill="#2b1b2c" fill-opacity="0.93"/><text x="32" y="53" font-family="Open Sans, DejaVu Sans, sans-serif" font-size="19.5" fill="#e9edf0" textLength="228" lengthAdjust="spacingAndGlyphs">voyager-xingkong.com.cn</text></g>
</svg>
